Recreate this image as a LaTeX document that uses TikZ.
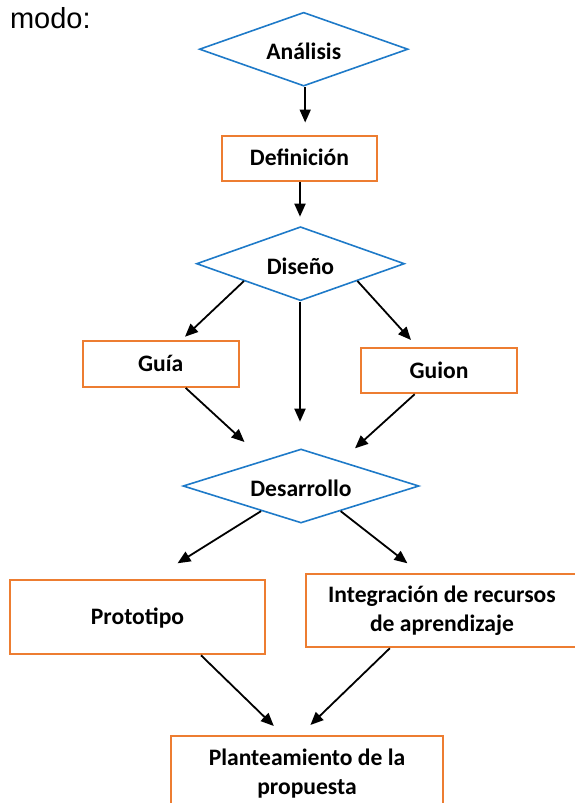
\documentclass[tikz,border=0pt]{standalone}
\usepackage{fontspec}
\setmainfont{Carlito}
\newfontfamily\modofont{Liberation Sans}
\usetikzlibrary{shapes.geometric,arrows.meta,calc}
\definecolor{dblue}{RGB}{30,122,200}
\definecolor{borange}{RGB}{237,125,49}
\begin{document}
\begin{tikzpicture}[x=1pt,y=-1pt,
  lbl/.style={font=\bfseries\fontsize{23.6}{29}\selectfont},
  diam/.style={lbl, diamond, draw=dblue, line width=1.6pt, aspect=2.8, inner sep=1pt,
    text height=21pt, text depth=0pt},
  box/.style={lbl, rectangle, draw=borange, line width=1.8pt, inner sep=0pt, align=center},
  oneline/.style={text height=15pt, text depth=0pt},
  arr/.style={-{Triangle[length=13pt,width=11pt]}, line width=1.8pt, black}]
\useasboundingbox (0,0) rectangle (574,803);

\node[anchor=base west, font=\modofont\fontsize{29}{33}\selectfont] (modo) at (6.5,28) {modo:};

\node[diam, minimum width=208.7pt, minimum height=73.8pt] (ana) at (303.7,49.2) {Análisis};
\node[box, oneline, minimum width=155pt, minimum height=45.3pt] (def) at (299.5,158.4) {Definición};
\node[diam, minimum width=208pt, minimum height=74pt] (dis) at (300.5,263.7) {Diseño};
\node[box, oneline, minimum width=155.9pt, minimum height=45.7pt] (gua) at (160.7,364.2) {Guía};
\node[box, oneline, minimum width=156pt, minimum height=45.6pt] (gin) at (439,370.5) {Guion};
\node[diam, minimum width=236pt, minimum height=74pt] (des) at (301,486) {Desarrollo};
\node[box, oneline, minimum width=255pt, minimum height=74.3pt] (pro) at (137.5,617.2) {Prototipo};
\node[box, minimum width=272pt, minimum height=73.3pt] (int) at (442,610.7) {Integración de recursos\\de aprendizaje};
\node[box, minimum width=272.6pt, minimum height=76.3pt] (pla) at (307,773.9) {Planteamiento de la\\propuesta};

\coordinate (t1) at (305.2,122.5);
\coordinate (t2) at (300,216.7);
\coordinate (t3) at (185,336.7);
\coordinate (t4) at (411,340);
\coordinate (t5) at (300,421.7);
\coordinate (t6) at (244.5,442);
\coordinate (t7) at (355,448.3);
\coordinate (t8) at (177.5,563.3);
\coordinate (t9) at (407.4,563.3);
\coordinate (t10) at (273.8,726);
\coordinate (t11) at (310.4,725);

\draw[arr] (ana.south -| t1) -- (t1);
\draw[arr] (def.south -| t2) -- (t2);
\draw[arr] ($(dis.west)!0.46!(dis.south)$) -- (t3);
\draw[arr] ($(dis.east)!0.457!(dis.south)$) -- (t4);
\draw[arr] (dis.south -| t5) -- (t5);
\draw[arr] ([xshift=25pt]gua.south) -- (t6);
\draw[arr] ([xshift=-24.3pt]gin.south) -- (t7);
\draw[arr] ($(des.west)!0.664!(des.south)$) -- (t8);
\draw[arr] ($(des.east)!0.666!(des.south)$) -- (t9);
\draw[arr] ([xshift=63.5pt]pro.south) -- (t10);
\draw[arr] ([xshift=-52.2pt]int.south) -- (t11);
\end{tikzpicture}
\end{document}
